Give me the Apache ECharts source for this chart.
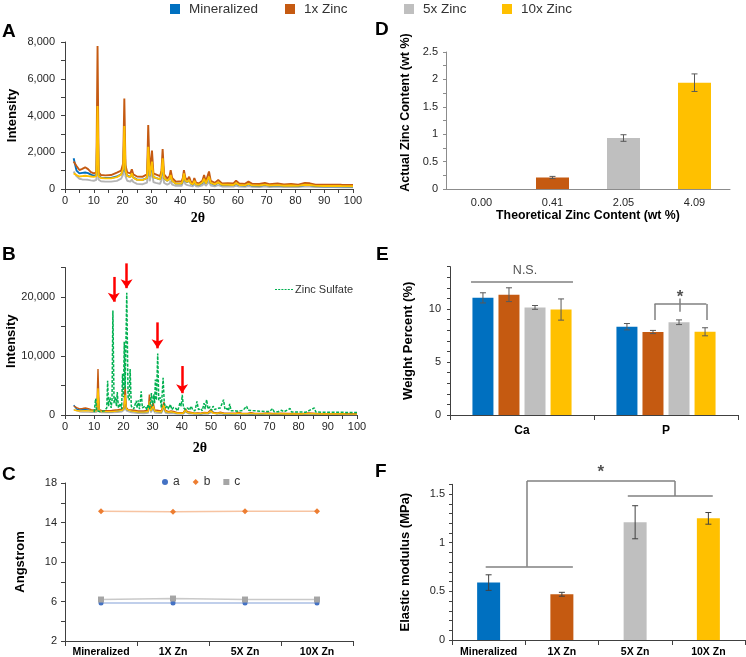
<!DOCTYPE html>
<html><head><meta charset="utf-8">
<script src="https://cdn.jsdelivr.net/npm/echarts@6/dist/echarts.min.js"></script>
<style>html,body{margin:0;padding:0;background:#fff}#c{width:746px;height:657px}</style>
</head><body><div id="c"></div>
<script>
// ---------------- data ----------------
const groupNames = ['Mineralized', '1x Zinc', '5x Zinc', '10x Zinc'];
const groupColors = ['#0070C0', '#C55A11', '#BFBFBF', '#FFC000'];

// Panel A/B: XRD traces (2theta, intensity)
const xA = [3,4,5,6,7,8,9,10, 10.9,11.3,11.7, 12.5,14,16,18,19.5, 20.2,20.6,21.0, 21.6,22.7,23.2,23.7,
  25,27,28.5,28.9,29.4, 29.8,30.2,30.7, 31.5,33.0,33.5,33.9,34.4, 35.5,36.3,36.7,37.2,
  38.5,40.5,40.9,41.3,41.8, 42.5,43.1,43.7, 44.4,44.9,45.5, 46.5,47.7,48.3,48.9, 49.5,50,50.6,
  52,53.2,54.5, 56.5,58.5,59.4,60.5, 62.5,63.7,65, 67.5,69.4,71, 73.8,76,78.5, 81,83.3,85,87, 90,93,96,100];
const xrd1x = [1500,1250,1030,1100,1180,1080,920,850, 900,7780,900, 760,740,760,890,1000, 1400,4930,1300,
  900,850,1070,800, 680,670,800,3480,900, 850,2090,850, 800,700,1000,2180,800, 580,700,1030,600,
  400,420,600,1030,600, 500,670,400, 320,600,350, 300,450,760,400, 450,950,450,
  330,490,300, 310,300,450,300, 280,400,280, 270,330,260, 300,250,270, 240,330,310,240, 230,240,230,220];
const xrd10x = [850,760,680,700,720,700,680,660, 700,4520,700, 600,580,580,650,780, 1100,3430,1000,
  700,650,850,620, 500,490,600,2300,700, 650,1490,650, 600,520,800,1670,600, 450,550,760,450,
  290,300,450,850,450, 380,500,300, 250,450,260, 230,350,560,300, 330,670,330,
  250,360,230, 230,220,320,220, 200,280,200, 190,240,190, 210,180,190, 170,230,220,170, 160,170,160,150];
const xrdMineralized = [1670,1000,850,880,900,860,780,720, 750,4000,750, 620,600,600,680,800, 1050,3000,950,
  720,660,820,630, 510,500,600,2100,700, 650,1400,650, 600,520,780,1550,600, 450,540,720,450,
  290,300,440,800,440, 370,480,290, 240,430,250, 220,330,530,290, 320,640,320,
  240,340,220, 220,210,300,210, 190,260,190, 180,230,180, 200,170,180, 160,220,210,160, 150,160,150,140];
const xrd5x = [950,700,560,520,510,500,470,450, 500,2800,500, 420,400,400,440,560, 800,2400,700,
  450,400,520,380, 280,260,350,1600,420, 380,1000,380, 330,280,500,1150,330, 240,300,450,240,
  170,170,260,500,260, 210,290,170, 150,270,150, 140,200,330,170, 190,400,190,
  150,210,140, 140,130,190,130, 120,160,120, 110,140,110, 130,110,110, 100,140,130,100, 100,100,95,90];

// Panel B: zinc sulfate reference pattern
const xZnSO4 = [10,10.3,10.5,10.8,12,13.5,14.3,14.6,14.9,15.4,15.8,16.1,16.4,16.8,17.3,17.6,17.9,18.3,19,19.4,
  19.7,20.0,20.3,20.6,21.15,21.6,22.0,22.3,22.7,23.5,24.4,24.7,25.1,25.5,26.1,26.5,27.5,28.0,28.5,29.0,
  29.6,29.9,30.4,30.7,30.95,31.3,31.75,32.1,32.6,33.0,33.6,34.0,34.5,35.0,35.5,36.1,36.6,37.2,38.0,38.6,
  39.4,39.8,40.15,40.6,41.3,42.0,42.6,43.2,43.8,44.5,45.2,45.7,46.5,47.0,47.6,48.0,48.5,49.0,49.6,50.2,
  50.7,51.3,52.0,52.6,53.2,53.7,54.3,54.8,55.5,56.0,56.4,56.9,58.0,59.0,60.0,61.0,62.2,62.7,64.0,65.5,
  67.0,68.5,70.0,71.1,71.6,73.0,74.2,75.0,77.1,77.6,80.0,82.5,85.4,85.9,88.0,91.0,94.0,97.0,100];
const yZnSO4 = [500,700,2800,700,600,700,1200,5800,1500,3000,1200,2500,17700,2000,3000,1500,3900,1200,2000,1000,
  7000,3000,12400,4500,20700,3000,2500,7800,1500,1000,2400,1200,2500,1000,4000,1200,1500,900,1800,1000,
  3700,1500,3500,2000,6000,2500,10400,2500,3000,1200,6300,2000,1200,1600,1000,1800,900,1300,1100,700,
  2100,1500,3400,1200,900,1200,800,1500,800,700,2300,900,1100,700,2000,1000,2600,1000,1400,800,
  1500,900,1100,800,1200,900,2600,900,1100,700,1900,700,750,650,700,800,1500,800,750,700,
  650,600,580,1100,560,550,800,550,1100,520,500,480,1200,500,470,460,450,440,430];
const arrowX = [16.7, 21.1, 31.7, 40.1];
const arrowTop = [23400, 25700, 15700, 8300];
const arrowBottom = [19200, 21500, 11300, 3700];

// Panel C: lattice parameters (Angstrom)
const latticeCats = ['Mineralized', '1X Zn', '5X Zn', '10X Zn'];
const latticeA = [5.85, 5.85, 5.85, 5.85];
const latticeB = [15.15, 15.1, 15.15, 15.15];
const latticeC = [6.2, 6.3, 6.2, 6.2];

// Panel D: zinc content
const zincCats = ['0.00', '0.41', '2.05', '4.09'];
const zincActual = [0, 0.21, 0.93, 1.94];
const zincErr = [0, 0.02, 0.06, 0.16];

// Panel E: EDS weight percent
const edsCats = ['Ca', 'P'];
const edsMineralized = [11.05, 8.33];
const eds1x = [11.35, 7.83];
const eds5x = [10.15, 8.75];
const eds10x = [9.95, 7.85];
const edsMineralizedErr = [0.48, 0.3];
const eds1xErr = [0.65, 0.15];
const eds5xErr = [0.18, 0.22];
const eds10xErr = [1.0, 0.38];
// annotation geometry in data space (hidden value axis: category i centred at i)
const edsNsSegs = [[[-0.354, 12.55], [0.354, 12.55]]];
const edsStarSegs = [[[0.92, 10.47], [1.28, 10.47]], [[0.92, 10.47], [0.92, 8.96]], [[1.28, 10.47], [1.28, 8.96]], [[1.097, 11.0], [1.097, 9.75]]];
const edsNsLabel = [0.021, 13.65];
const edsStarLabel = [1.097, 11.13];

// Panel F: elastic modulus
const modulusCats = ['Mineralized', '1X Zn', '5X Zn', '10X Zn'];
const modulus = [0.59, 0.47, 1.21, 1.25];
const modulusErr = [0.08, 0.02, 0.17, 0.06];
const modSegs = [[[-0.04, 0.753], [1.15, 0.753]], [[0.524, 0.753], [0.524, 1.635]], [[0.524, 1.635], [2.544, 1.635]],
  [[2.544, 1.635], [2.544, 1.48]], [[1.9, 1.48], [3.06, 1.48]]];
const modStarLabel = [1.53, 1.727];

// ---------------- chart ----------------
const FONT = '"Liberation Sans", Arial, Helvetica, sans-serif';
const AX = '#404040';
const zip = (xs, ys) => xs.map((x, i) => [x, ys[i]]);
const near = (v, step) => Math.abs(v / step - Math.round(v / step)) < 1e-6;

function baseAxis(color) {
  color = color || AX;
  return {
    axisLine: { show: true, onZero: false, lineStyle: { color: color, width: 1 } },
    axisTick: { show: true, length: 4, lineStyle: { color: color, width: 1 } },
    axisLabel: { color: '#262626', fontSize: 11, fontFamily: FONT },
    splitLine: { show: false },
    nameTextStyle: { color: '#000', fontSize: 13, fontWeight: 'bold', fontFamily: FONT }
  };
}
function merge(a, b) {
  const o = Object.assign({}, a);
  for (const k in b) {
    if (b[k] && typeof b[k] === 'object' && !Array.isArray(b[k]) && typeof a[k] === 'object') o[k] = Object.assign({}, a[k], b[k]);
    else o[k] = b[k];
  }
  return o;
}

const xrdX = (grid, gap) => merge(baseAxis(), {
  type: 'value', gridIndex: grid, min: 0, max: 100, interval: 5,
  axisLabel: { formatter: v => near(v, 10) ? String(v) : '', margin: 6 },
  name: '2θ', nameLocation: 'middle', nameGap: gap,
  nameTextStyle: { fontFamily: '"Liberation Serif", "Times New Roman", serif', fontSize: 14, fontWeight: 'bold', color: '#000', padding: [0, 22, 0, 0] }
});
const fmtThousands = v => String(v).replace(/\B(?=(\d{3})+(?!\d))/g, ',');

function errRender(offsets, cap, color) {
  return function (params, api) {
    const i = api.value(3);
    const lo = api.coord([api.value(0), api.value(1)]);
    const hi = api.coord([api.value(0), api.value(2)]);
    const x = lo[0] + offsets[i];
    const st = { stroke: color, lineWidth: 1 };
    return { type: 'group', children: [
      { type: 'line', shape: { x1: x, y1: lo[1], x2: x, y2: hi[1] }, style: st },
      { type: 'line', shape: { x1: x - cap, y1: hi[1], x2: x + cap, y2: hi[1] }, style: st },
      { type: 'line', shape: { x1: x - cap, y1: lo[1], x2: x + cap, y2: lo[1] }, style: st }
    ] };
  };
}
function errData(groups) {
  const out = [];
  groups.forEach((g, gi) => g.vals.forEach((v, j) => { if (g.errs[j] > 0) out.push([j, v - g.errs[j], v + g.errs[j], gi]); }));
  return out;
}
const segLines = segs => segs.map(s => [{ coord: s[0] }, { coord: s[1] }]);

const xrdSeries = (xi, yi, width) => [
  { name: groupNames[2], data: zip(xA, xrd5x), color: '#B4B4B4' },
  { name: groupNames[0], data: zip(xA, xrdMineralized), color: groupColors[0] },
  { name: groupNames[1], data: zip(xA, xrd1x), color: groupColors[1] },
  { name: groupNames[3], data: zip(xA, xrd10x), color: groupColors[3] }
].map(s => ({
  type: 'line', name: s.name, xAxisIndex: xi, yAxisIndex: yi, data: s.data, showSymbol: false, symbol: 'none',
  lineStyle: { color: s.color, width: width }, itemStyle: { color: s.color }, silent: true, z: 2
}));

const eBarW = 21, eBarGap = 0.24;
const eOffsets = [-1.5, -0.5, 0.5, 1.5].map(k => k * eBarW * (1 + eBarGap));
const edsVals = [edsMineralized, eds1x, eds5x, eds10x];
const edsErrs = [edsMineralizedErr, eds1xErr, eds5xErr, eds10xErr];

const legendBase = {
  icon: 'rect', itemWidth: 10, itemHeight: 10, padding: 0, selectedMode: false, top: 2,
  textStyle: { fontSize: 13.5, color: '#333', fontFamily: FONT, padding: [0, 0, 0, 4] }
};
const markBase = { silent: true, animation: false, label: { show: false }, emphasis: { disabled: true } };

// Grids. Panel B and F also get a hidden, taller overlay grid with the same scale, for annotations that rise above the axis top.
const gB = { left: 65, top: 267.5, width: 292, height: 147.5 }, bMax = 25000, bAnnMax = 27000;
const gF = { left: 452, top: 484.3, width: 293, height: 155.7 }, fMax = 1.6, fAnnMax = 1.8;
const gBann = { left: gB.left, width: gB.width, height: gB.height * bAnnMax / bMax };
gBann.top = gB.top + gB.height - gBann.height;
const gFann = { left: gF.left, width: gF.width, height: gF.height * fAnnMax / fMax };
gFann.top = gF.top + gF.height - gFann.height;

const option = {
  animation: false,
  backgroundColor: '#fff',
  textStyle: { fontFamily: FONT },
  title: [
    ['A', 2, 22], ['B', 2, 245], ['C', 2, 465], ['D', 375, 20], ['E', 376, 245], ['F', 375, 462]
  ].map(t => ({ text: t[0], left: t[1], top: t[2], padding: 0, textStyle: { fontSize: 19, fontWeight: 'bold', color: '#000', fontFamily: FONT } })),
  legend: [
    Object.assign({}, legendBase, { left: 170, data: [{ name: groupNames[0], itemStyle: { color: groupColors[0] } }] }),
    Object.assign({}, legendBase, { left: 285, data: [{ name: groupNames[1], itemStyle: { color: groupColors[1] } }] }),
    Object.assign({}, legendBase, { left: 404, data: [{ name: groupNames[2], itemStyle: { color: groupColors[2] } }] }),
    Object.assign({}, legendBase, { left: 502, data: [{ name: groupNames[3], itemStyle: { color: groupColors[3] } }] }),
    { left: 275, top: 284, padding: 0, selectedMode: false, itemWidth: 18, itemHeight: 2,
      data: [{ name: 'Zinc Sulfate', icon: 'path://M0,0h2v1h-2z M3.2,0h2v1h-2z M6.4,0h2v1h-2z M9.6,0h2v1h-2z M12.8,0h2v1h-2z M16,0h2v1h-2z', itemStyle: { color: '#00B050' } }],
      textStyle: { fontSize: 11, color: '#333', fontFamily: FONT, padding: [0, 0, 0, -3] } },
    { left: 162, top: 476, padding: 0, selectedMode: false, itemWidth: 6, itemHeight: 6, itemGap: 13,
      data: [{ name: 'a', icon: 'circle', itemStyle: { color: '#4472C4' } }, { name: 'b', icon: 'diamond', itemStyle: { color: '#ED7D31' } }, { name: 'c', icon: 'rect', itemStyle: { color: '#A5A5A5' } }],
      textStyle: { fontSize: 12, color: '#333', fontFamily: FONT } }
  ],
  grid: [
    { left: 65, top: 42, width: 288, height: 147 },
    gB,
    { left: 65, top: 483, width: 288, height: 158 },
    { left: 446, top: 52, width: 284, height: 137 },
    { left: 450, top: 266.6, width: 288, height: 148.4 },
    gF,
    gBann,
    gFann
  ].map(g => Object.assign({ containLabel: false, outerBoundsMode: 'none' }, g)),
  xAxis: [
    xrdX(0, 22),
    xrdX(1, 26),
    merge(baseAxis(), { type: 'category', gridIndex: 2, data: latticeCats, axisTick: { length: 5 },
      axisLabel: { fontWeight: 'bold', fontSize: 10.5, color: '#000', margin: 6, interval: 0 } }),
    merge(baseAxis('#8C8C8C'), { type: 'category', gridIndex: 3, data: zincCats, axisTick: { show: false },
      axisLabel: { margin: 8, color: '#262626', interval: 0 },
      name: 'Theoretical Zinc Content (wt %)', nameLocation: 'middle', nameGap: 21, nameTextStyle: { fontSize: 12.3 } }),
    merge(baseAxis(), { type: 'category', gridIndex: 4, data: edsCats, axisTick: { length: 5 },
      axisLabel: { fontWeight: 'bold', fontSize: 12, color: '#000', margin: 10 } }),
    merge(baseAxis(), { type: 'category', gridIndex: 5, data: modulusCats, axisTick: { length: 5 },
      axisLabel: { fontWeight: 'bold', fontSize: 10.5, color: '#000', margin: 7, interval: 0 } }),
    { type: 'value', gridIndex: 4, min: -0.5, max: 1.5, show: false },
    { type: 'value', gridIndex: 7, min: -0.5, max: 3.5, show: false },
    { type: 'value', gridIndex: 6, min: 0, max: 100, show: false }
  ],
  yAxis: [
    merge(baseAxis(), { type: 'value', gridIndex: 0, min: 0, max: 8000, interval: 1000,
      axisLabel: { formatter: v => near(v, 2000) ? fmtThousands(v) : '', margin: 10 },
      name: 'Intensity', nameLocation: 'middle', nameGap: 46 }),
    merge(baseAxis(), { type: 'value', gridIndex: 1, min: 0, max: bMax, interval: 5000,
      axisLabel: { formatter: v => near(v, 10000) ? fmtThousands(v) : '', margin: 10 },
      name: 'Intensity', nameLocation: 'middle', nameGap: 45 }),
    merge(baseAxis(), { type: 'value', gridIndex: 2, min: 2, max: 18, interval: 2,
      axisLabel: { formatter: v => near(v - 2, 4) ? String(v) : '', margin: 8 },
      name: 'Angstrom', nameLocation: 'middle', nameGap: 38 }),
    merge(baseAxis('#8C8C8C'), { type: 'value', gridIndex: 3, min: 0, max: 2.5, interval: 0.25, axisTick: { length: 3 },
      axisLabel: { formatter: v => near(v, 0.5) ? String(Math.round(v * 10) / 10) : '', margin: 8 },
      name: 'Actual Zinc Content (wt %)', nameLocation: 'middle', nameGap: 34, nameTextStyle: { fontSize: 12.5, padding: [0, 0, 0, 16] } }),
    merge(baseAxis(), { type: 'value', gridIndex: 4, min: 0, max: 14, interval: 1, axisTick: { length: 3 },
      axisLabel: { formatter: v => near(v, 5) ? String(v) : '', margin: 9 },
      name: 'Weight Percent (%)', nameLocation: 'middle', nameGap: 35 }),
    merge(baseAxis(), { type: 'value', gridIndex: 5, min: 0, max: fMax, interval: 0.1, axisTick: { length: 3 },
      axisLabel: { formatter: v => near(v, 0.5) ? String(Math.round(v * 10) / 10) : '', margin: 7 },
      name: 'Elastic modulus (MPa)', nameLocation: 'middle', nameGap: 40 }),
    { type: 'value', gridIndex: 6, min: 0, max: bAnnMax, show: false },
    { type: 'value', gridIndex: 7, min: 0, max: fAnnMax, show: false }
  ],
  series: [
    // A
    ...xrdSeries(0, 0, 1.9),
    // B
    ...xrdSeries(1, 1, 1.4),
    { type: 'line', name: 'Zinc Sulfate', xAxisIndex: 1, yAxisIndex: 1, data: zip(xZnSO4, yZnSO4), showSymbol: false, symbol: 'none',
      lineStyle: { color: '#00B050', width: 1.5, type: [3, 1.5] }, itemStyle: { color: '#00B050' }, silent: true, z: 3 },
    { type: 'scatter', xAxisIndex: 8, yAxisIndex: 6, symbolSize: 0, itemStyle: { color: 'rgba(0,0,0,0)' }, silent: true, z: 6, clip: false,
      data: zip(arrowX, arrowBottom),
      markLine: Object.assign({}, markBase, { symbol: ['none', 'arrow'], symbolSize: [9, 9],
        lineStyle: { color: '#FF0000', width: 2.5, type: 'solid' },
        data: arrowX.map((x, i) => [{ coord: [x, arrowTop[i]] }, { coord: [x, arrowBottom[i]] }]) }) },
    // C
    ...[['a', latticeA, '#4472C4', 'circle', 5, 'rgba(68,114,196,0.45)'],
        ['b', latticeB, '#ED7D31', 'diamond', 6, 'rgba(237,125,49,0.45)'],
        ['c', latticeC, '#A5A5A5', 'rect', 6, 'rgba(165,165,165,0.6)']].map(s => ({
      type: 'line', name: s[0], xAxisIndex: 2, yAxisIndex: 2, data: s[1], symbol: s[3], symbolSize: s[4], showSymbol: true,
      lineStyle: { color: s[5], width: 1.5 }, itemStyle: { color: s[2] }, silent: true })),
    // D
    { type: 'bar', name: 'zinc', xAxisIndex: 3, yAxisIndex: 3, barWidth: 33, silent: true,
      data: zincActual.map((v, i) => ({ value: v, itemStyle: { color: groupColors[i] } })) },
    { type: 'custom', xAxisIndex: 3, yAxisIndex: 3, silent: true, z: 5, encode: { x: 0, y: [1, 2] },
      renderItem: errRender([0, 0, 0, 0], 3, '#595959'), data: errData([{ vals: zincActual, errs: zincErr }]).map(d => [d[0], d[1], d[2], 0]) },
    // E
    ...groupNames.map((n, i) => ({ type: 'bar', name: n, xAxisIndex: 4, yAxisIndex: 4, data: edsVals[i], barWidth: eBarW, barGap: (eBarGap * 100) + '%',
      itemStyle: { color: groupColors[i] }, silent: true })),
    { type: 'custom', xAxisIndex: 4, yAxisIndex: 4, silent: true, z: 5, encode: { x: 0, y: [1, 2] },
      renderItem: errRender(eOffsets, 3, '#595959'), data: errData(edsVals.map((v, i) => ({ vals: v, errs: edsErrs[i] }))) },
    { type: 'scatter', xAxisIndex: 6, yAxisIndex: 4, symbolSize: 1, itemStyle: { color: 'rgba(0,0,0,0)' }, silent: true, z: 6, clip: false,
      data: [{ value: edsNsLabel, label: { formatter: 'N.S.', fontSize: 12.5 } }, { value: edsStarLabel, label: { formatter: '*', fontSize: 17, fontWeight: 'bold' } }],
      label: { show: true, position: 'inside', color: '#262626', fontFamily: FONT },
      markLine: Object.assign({}, markBase, { symbol: ['none', 'none'],
        lineStyle: { color: '#808080', width: 1.5, type: 'solid' }, data: segLines(edsNsSegs.concat(edsStarSegs)) }) },
    // F
    { type: 'bar', name: 'modulus', xAxisIndex: 5, yAxisIndex: 5, barWidth: 23, silent: true,
      data: modulus.map((v, i) => ({ value: v, itemStyle: { color: groupColors[i] } })) },
    { type: 'custom', xAxisIndex: 5, yAxisIndex: 5, silent: true, z: 5, encode: { x: 0, y: [1, 2] },
      renderItem: errRender([0, 0, 0, 0], 3, '#404040'), data: errData([{ vals: modulus, errs: modulusErr }]).map(d => [d[0], d[1], d[2], 0]) },
    { type: 'scatter', xAxisIndex: 7, yAxisIndex: 7, symbolSize: 1, itemStyle: { color: 'rgba(0,0,0,0)' }, silent: true, z: 6, clip: false,
      data: [{ value: modStarLabel, label: { formatter: '*', fontSize: 17, fontWeight: 'bold' } }],
      label: { show: true, position: 'inside', color: '#262626', fontFamily: FONT },
      markLine: Object.assign({}, markBase, { symbol: ['none', 'none'],
        lineStyle: { color: '#808080', width: 1.5, type: 'solid' }, data: segLines(modSegs) }) }
  ]
};
const chart = echarts.init(document.getElementById('c'), null, { renderer: 'canvas' });
chart.setOption(option);
</script></body></html>
